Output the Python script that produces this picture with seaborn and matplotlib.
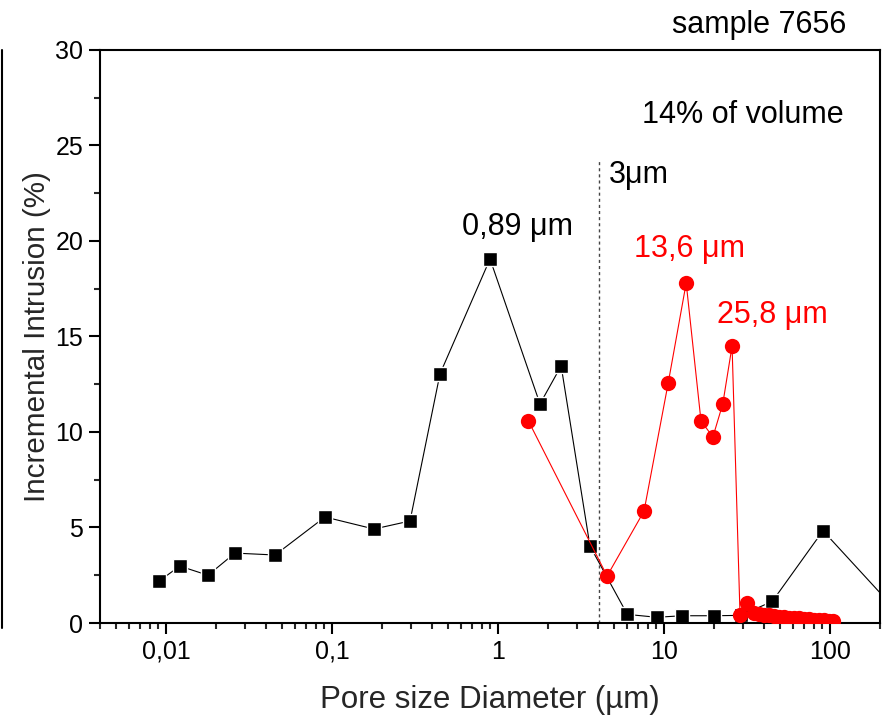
import numpy as np
import pandas as pd
import matplotlib
matplotlib.use('Agg')
import matplotlib.pyplot as plt
import seaborn as sns
from matplotlib.ticker import FixedLocator, FixedFormatter, LogLocator, MultipleLocator, NullFormatter
from matplotlib.lines import Line2D


# data
black_x = [0.0091, 0.0121, 0.0179, 0.026, 0.0454, 0.0907, 0.179, 0.295, 0.447, 0.895,
           1.79, 2.4, 3.58, 6.01, 9.04, 12.9, 20.1, 29.0, 44.9, 90.7, 280]
black_y = [2.2, 2.98, 2.5, 3.66, 3.56, 5.55, 4.92, 5.34, 13.04, 19.06,
           11.47, 13.46, 4.03, 0.45, 0.3, 0.38, 0.38, 0.4, 1.13, 4.83, 0.2]

red_x = [1.52, 4.54, 7.58, 10.6, 13.6, 16.7, 19.7, 22.6, 25.7, 28.7, 31.8,
         35, 37.5, 40, 43, 46, 49, 53, 57, 61, 65, 70, 75, 80, 86, 92, 98, 104]
red_y = [10.6, 2.46, 5.86, 12.57, 17.8, 10.58, 9.74, 11.48, 14.5, 0.42, 1.06,
         0.5, 0.45, 0.42, 0.4, 0.38, 0.34, 0.3, 0.28, 0.26, 0.24, 0.22, 0.2, 0.18, 0.16, 0.14, 0.12, 0.1]

x_ticks = [0.01, 0.1, 1, 10, 100]
x_tick_labels = ['0,01', '0,1', '1', '10', '100']
cutoff_x = 4.05
cutoff_top = 24.2


sns.set_style('ticks')
plt.rcParams['font.family'] = ['Liberation Sans', 'DejaVu Sans']

fig = plt.figure(figsize=(8.87, 7.17), dpi=100)
ax = fig.add_axes([0.1127, 0.1311, 0.8794, 0.7992])
ax.set_xscale('log')

sns.lineplot(x=black_x, y=black_y, sort=False, estimator=None, ax=ax,
             color='black', linewidth=0.8, marker='s', markersize=10.5,
             markeredgecolor='white', markeredgewidth=1.0, zorder=2)
sns.lineplot(x=red_x, y=red_y, sort=False, estimator=None, ax=ax,
             color='#ff0000', linewidth=0.8, marker='o', markersize=11,
             markeredgewidth=0, zorder=3)

ax.vlines(cutoff_x, 0, cutoff_top, colors='#444444', linestyles=(0, (2.2, 2.2)), linewidth=1.0, zorder=1)

ax.set_xlim(0.004, 200)
ax.set_ylim(0, 30)

ax.xaxis.set_major_locator(FixedLocator(x_ticks))
ax.xaxis.set_major_formatter(FixedFormatter(x_tick_labels))
ax.xaxis.set_minor_locator(LogLocator(base=10, subs=np.arange(2, 10), numticks=20))
ax.xaxis.set_minor_formatter(NullFormatter())
ax.yaxis.set_major_locator(MultipleLocator(5))
ax.yaxis.set_minor_locator(MultipleLocator(2.5))

ax.tick_params(which='major', direction='out', length=8, width=1.5, labelsize=18, pad=4,
               top=False, right=False, colors='black')
ax.tick_params(which='minor', direction='out', length=4, width=1.5, top=False, right=False)
for s in ax.spines.values():
    s.set_linewidth(1.5)
    s.set_color('black')

ax.set_xlabel('Pore size Diameter (µm)', fontsize=22.5, labelpad=15)
ax.set_ylabel('Incremental Intrusion (%)', fontsize=21.3, labelpad=3)

ax.text(0.607, 20.3, '0,89 μm', fontsize=22, color='black', ha='left', va='baseline')
ax.text(6.6, 19.15, '13,6 μm', fontsize=22, color='#ff0000', ha='left', va='baseline')
ax.text(20.86, 15.69, '25,8 μm', fontsize=22, color='#ff0000', ha='left', va='baseline')
ax.text(4.66, 23.05, '3μm', fontsize=22, color='black', ha='left', va='baseline')
ax.text(121, 26.19, '14% of volume', fontsize=22, color='black', ha='right', va='baseline')
fig.text(0.9546, 0.9536, 'sample 7656', fontsize=22, color='black', ha='right', va='baseline')

# edge of the neighbouring panel
fig.add_artist(Line2D([0.0023, 0.0023], [0.124, 0.930], transform=fig.transFigure,
                      color='black', linewidth=1.5))

fig.savefig('out.png', dpi=100)
